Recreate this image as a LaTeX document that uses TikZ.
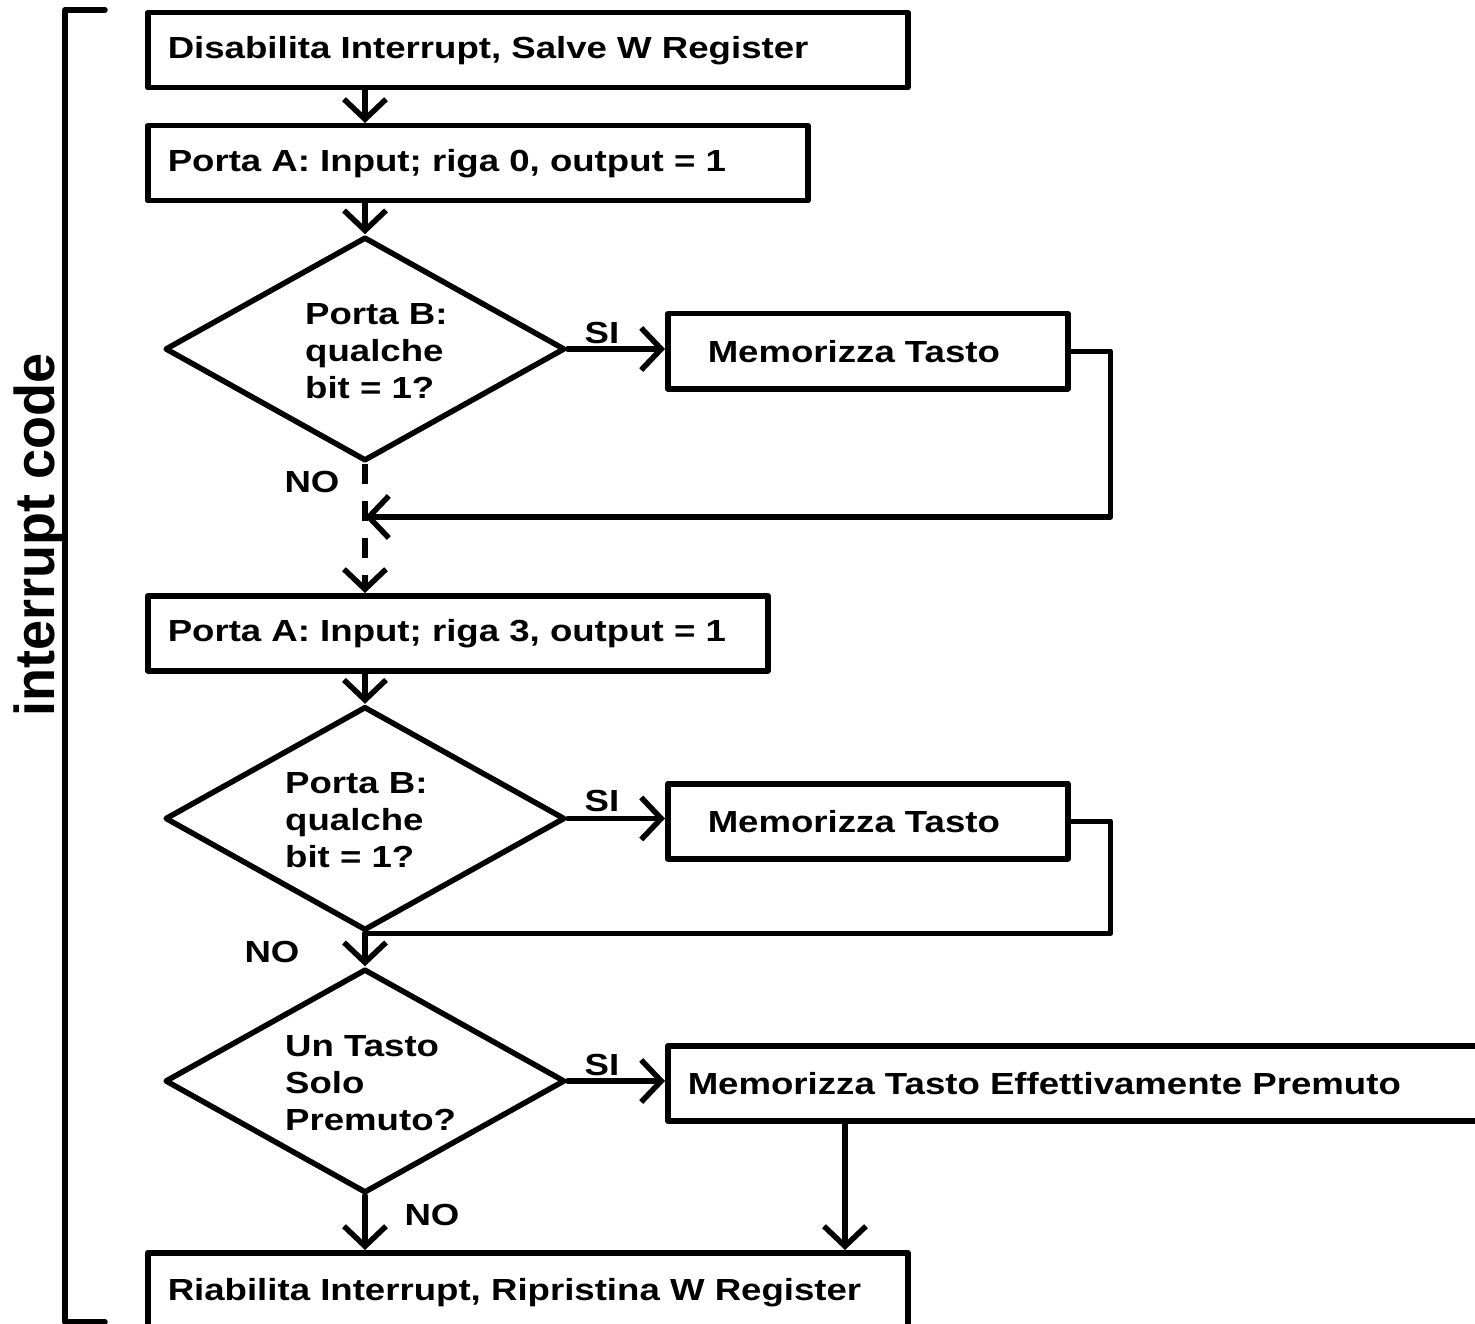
\documentclass[tikz,border=0pt]{standalone}
\usepackage{fontspec}
\setmainfont{Liberation Sans}[FakeStretch=1.2]
\newfontfamily\sidefont{Liberation Sans}
\usetikzlibrary{arrows.meta,shapes.geometric,calc}

\tikzset{
  every node/.style={font=\fontsize{30.5}{37}\selectfont\bfseries},
  line/.style={line width=5.5pt, line join=round, line cap=round},
  arr/.style={line, -{Straight Barb[length=20pt, width=42pt]}},
  box/.style={line, draw, rectangle, anchor=north west, inner xsep=20pt,
              inner ysep=0pt, minimum height=75pt, align=left, text width=#1},
  dia/.style={line, draw, diamond, minimum width=400pt, minimum height=224pt,
              inner sep=0pt},
  qtext/.style={anchor=west, align=left, inner sep=0pt},
  tag/.style={inner sep=0pt},
}

\begin{document}
\begin{tikzpicture}[x=1pt, y=-1pt]
\useasboundingbox (0,0) rectangle (1475,1324);
\clip (0,0) rectangle (1475,1324);

% bracket around the whole routine
\draw[line] (105,10) -- (65,10) -- (65,1322) -- (105,1322);
\node[rotate=90, anchor=base, inner sep=0pt,
      font=\sidefont\fontsize{54}{60}\selectfont\bfseries]
  (label) at (54,535) {\scalebox{1}[1.04]{interrupt code}};

% process boxes
\node[box=720pt] (b1) at (145,10) {Disabilita Interrupt, Salve W Register};
\node[box=620pt] (b2) at (145,123) {Porta A: Input; riga 0, output = 1};
\node[box=580pt] (b3) at (145,593) {Porta A: Input; riga 3, output = 1};
\node[box=720pt, minimum height=80pt] (b4) at (145,1250) {Riabilita Interrupt, Ripristina W Register};

\node[box=320pt, inner xsep=40pt] (m1) at (665,311) {Memorizza Tasto};
\node[box=320pt, inner xsep=40pt] (m2) at (665,781) {Memorizza Tasto};
\node[box=795pt] (m3) at (665,1043) {Memorizza Tasto Effettivamente Premuto};

% decisions
\node[dia] (d1) at (365,349) {};
\node[dia] (d2) at (365,818.5) {};
\node[dia] (d3) at (365,1081) {};
\node[qtext] (q1) at (305,351) {Porta B:\\qualche\\bit = 1?};
\node[qtext] (q2) at (285,820) {Porta B:\\qualche\\bit = 1?};
\node[qtext] (q3) at (285,1083) {Un Tasto\\Solo\\Premuto?};

% branch labels
\node[tag] (si1) at (602,333) {SI};
\node[tag] (si2) at (602,801) {SI};
\node[tag] (si3) at (602,1065) {SI};
\node[tag] (no1) at (312,482) {NO};
\node[tag] (no2) at (272,952) {NO};
\node[tag] (no3) at (432,1215) {NO};

% junction points
\coordinate (j1) at (365,517);
\coordinate (m3o) at ($(m3.south west)+(180,0)$);

% connectors
\draw[arr] (d1.north |- b1.south) -- (d1.north |- b2.north);
\draw[arr] (d1.north |- b2.south) -- (d1.north);
\draw[arr] (d1.east) -- (d1.east -| m1.west);
\draw[arr] (m1.east) -- ++(40,0) |- (j1);
\draw[arr, dash pattern=on 20pt off 17pt, line cap=butt] (d1.south) -- (d1.south |- b3.north);
\draw[arr] (d2.north |- b3.south) -- (d2.north);
\draw[arr] (d2.east) -- (d2.east -| m2.west);
\draw[line] (m2.east) -- ++(40,0) |- (d2.south);
\draw[arr] (d2.south) -- (d3.north);
\draw[arr] (d3.east) -- (d3.east -| m3.west);
\draw[arr] (d3.south) -- (d3.south |- b4.north);
\draw[arr] (m3o) -- (m3o |- b4.north);
\end{tikzpicture}
\end{document}
